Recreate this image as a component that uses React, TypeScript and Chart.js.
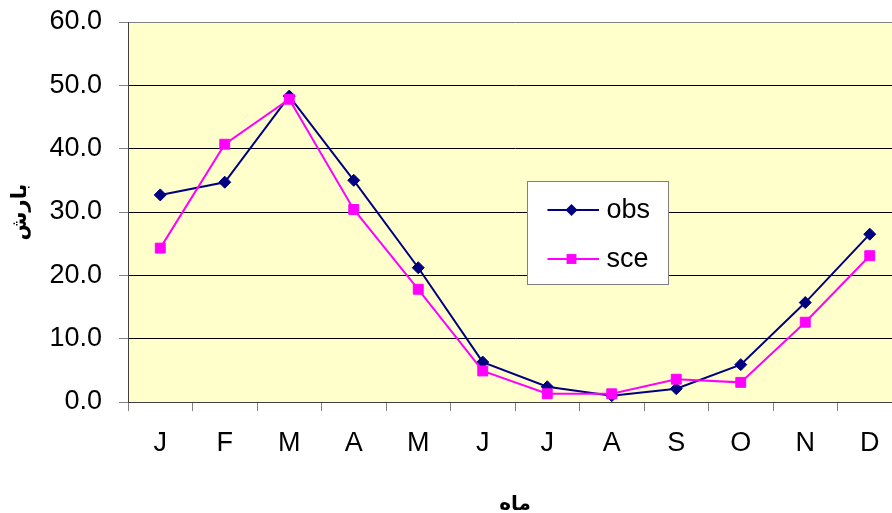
import React, { useEffect, useRef } from "react";
import { Chart, registerables } from "chart.js";

Chart.register(...registerables);

const months = ["J", "F", "M", "A", "M", "J", "J", "A", "S", "O", "N", "D"];
const obsValues = [32.7, 34.7, 48.3, 35.0, 21.2, 6.3, 2.4, 1.0, 2.1, 5.9, 15.7, 26.5];
const sceValues = [24.3, 40.7, 47.8, 30.4, 17.8, 4.9, 1.3, 1.3, 3.6, 3.1, 12.6, 23.1];
const yTitle = "بارش";
const xTitle = "ماه";

const bgPlugin = {
  id: "plotBg",
  beforeDraw(chart: any) {
    const { ctx, chartArea } = chart;
    ctx.save();
    ctx.fillStyle = "#FFFFCC";
    ctx.fillRect(chartArea.left, chartArea.top, chartArea.right - chartArea.left, chartArea.bottom - chartArea.top);
    ctx.restore();
  },
};

const legendPlugin = {
  id: "boxLegend",
  afterDatasetsDraw(chart: any) {
    const { ctx, chartArea } = chart;
    const x = Math.round(chartArea.left + 398.5) + 0.5;
    const y = Math.round(chartArea.top + 158.5) + 0.5;
    const w = 141;
    const h = 103;
    ctx.save();
    ctx.fillStyle = "#FFFFFF";
    ctx.fillRect(x, y, w, h);
    ctx.strokeStyle = "#808080";
    ctx.lineWidth = 1;
    ctx.strokeRect(x, y, w, h);
    chart.data.datasets.forEach((ds: any, i: number) => {
      const cy = y + 28.5 + i * 49;
      ctx.strokeStyle = ds.borderColor;
      ctx.lineWidth = ds.borderWidth;
      ctx.beginPath();
      ctx.moveTo(x + 20, cy);
      ctx.lineTo(x + 71.5, cy);
      ctx.stroke();
      ctx.fillStyle = ds.pointBackgroundColor;
      const mx = x + 44;
      const r = ds.pointRadius;
      ctx.beginPath();
      if (ds.pointStyle === "rectRot") {
        ctx.moveTo(mx, cy - r);
        ctx.lineTo(mx + r, cy);
        ctx.lineTo(mx, cy + r);
        ctx.lineTo(mx - r, cy);
        ctx.closePath();
      } else {
        const s = r * Math.SQRT1_2;
        ctx.rect(mx - s, cy - s, 2 * s, 2 * s);
      }
      ctx.fill();
      ctx.fillStyle = "#000000";
      ctx.font = "27px 'Liberation Sans', Arial, sans-serif";
      ctx.textBaseline = "middle";
      ctx.textAlign = "left";
      ctx.fillText(ds.label, x + 79, cy + 1);
    });
    ctx.restore();
  },
};

export default function App() {
  const canvasRef = useRef<HTMLCanvasElement | null>(null);

  useEffect(() => {
    if (!canvasRef.current) return;
    const chart = new Chart(canvasRef.current, {
      type: "line",
      data: {
        labels: months,
        datasets: [
          {
            label: "obs",
            data: obsValues,
            borderColor: "#000080",
            backgroundColor: "#000080",
            pointBackgroundColor: "#000080",
            pointBorderColor: "#000080",
            borderWidth: 2,
            pointStyle: "rectRot",
            pointRadius: 6,
            pointBorderWidth: 1,
            tension: 0,
            fill: false,
            order: 1,
          },
          {
            label: "sce",
            data: sceValues,
            borderColor: "#FF00FF",
            backgroundColor: "#FF00FF",
            pointBackgroundColor: "#FF00FF",
            pointBorderColor: "#FF00FF",
            borderWidth: 2,
            pointStyle: "rect",
            pointRadius: 7,
            pointBorderWidth: 1,
            tension: 0,
            fill: false,
            order: 0,
          },
        ],
      },
      options: {
        animation: false,
        responsive: true,
        maintainAspectRatio: false,
        layout: { padding: { left: 0, right: 7, top: 22, bottom: 0 } },
        plugins: {
          legend: { display: false },
          tooltip: { enabled: false },
        },
        scales: {
          x: {
            type: "category",
            offset: true,
            grid: {
              offset: true,
              drawOnChartArea: false,
              drawTicks: true,
              tickLength: 9,
              color: "#808080",
            },
            border: { display: true, color: "#404040", width: 1 },
            ticks: {
              color: "#000000",
              padding: 16,
              font: { family: "'Liberation Sans', Arial, sans-serif", size: 27 },
              maxRotation: 0,
              autoSkip: false,
            },
            title: {
              display: true,
              text: xTitle,
              color: "#000000",
              font: { family: "'DejaVu Sans', sans-serif", size: 20, weight: "bold" },
              padding: { top: 0, bottom: -4 },
            },
            afterFit(scale: any) {
              scale.height = 111;
              scale.paddingLeft = 0;
              scale.paddingRight = 0;
            },
          },
          y: {
            min: 0,
            max: 60,
            grid: {
              color: (ctx: any) => (ctx.tick && ctx.tick.value === 60 ? "#808080" : "#000000"),
              tickColor: "#808080",
              tickLength: 9,
              lineWidth: 1,
            },
            border: { display: true, color: "#404040", width: 1 },
            ticks: {
              stepSize: 10,
              color: "#000000",
              padding: 17,
              font: { family: "'Liberation Sans', Arial, sans-serif", size: 27 },
              callback: (v: any) => Number(v).toFixed(1),
            },
            title: {
              display: true,
              text: yTitle,
              color: "#000000",
              font: { family: "'DejaVu Sans', sans-serif", size: 21, weight: "bold" },
              padding: { top: 8, bottom: 0 },
            },
            afterFit(scale: any) {
              scale.width = 128;
              scale.paddingTop = 0;
              scale.paddingBottom = 0;
            },
          },
        },
      },
      plugins: [bgPlugin, legendPlugin],
    });
    return () => chart.destroy();
  }, []);

  return (
    <div style={{ position: "fixed", left: 0, top: 0, width: 892, height: 513, overflow: "hidden", background: "#FFFFFF" }}>
      <div style={{ position: "relative", width: 910, height: 513 }}>
        <canvas ref={canvasRef} />
      </div>
    </div>
  );
}
